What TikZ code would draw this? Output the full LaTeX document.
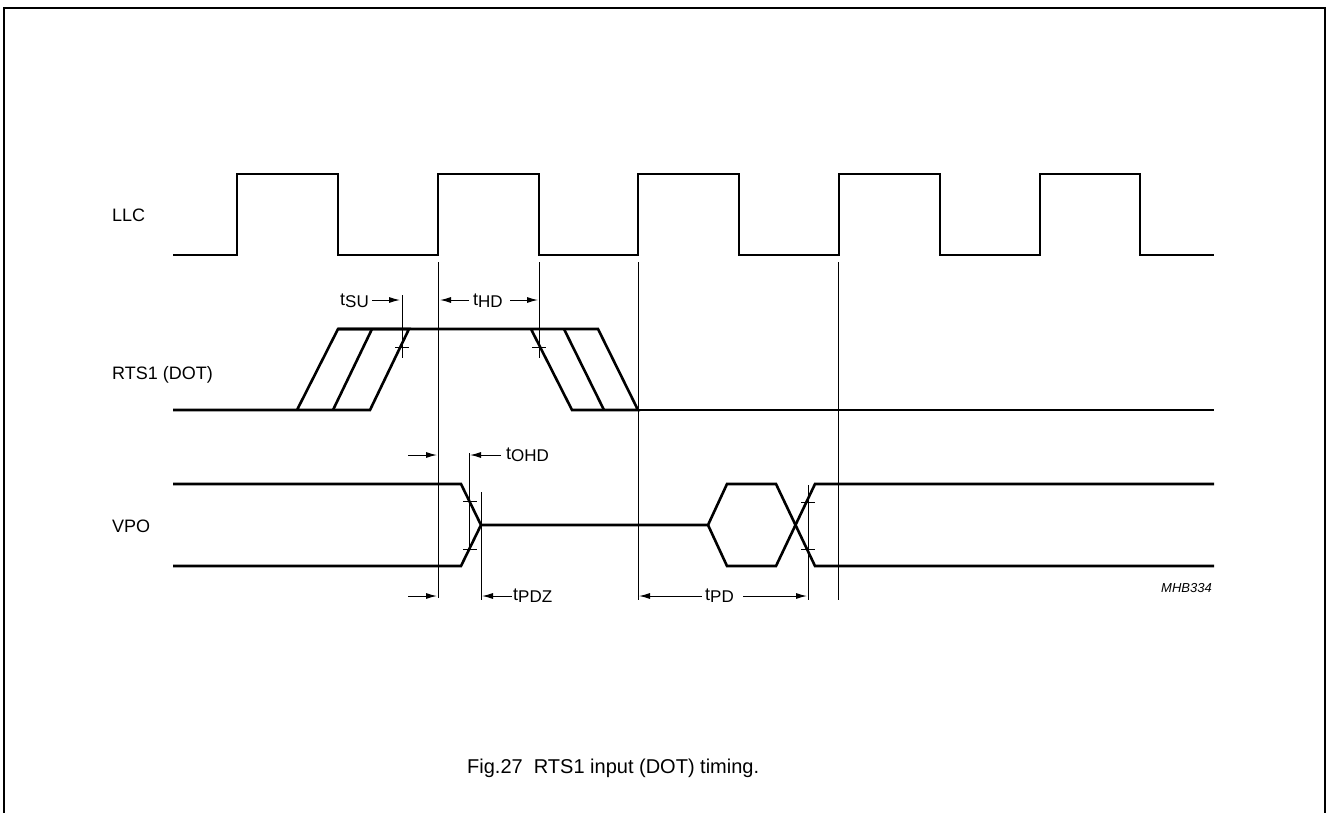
\documentclass[tikz,border=0pt]{standalone}
\usepackage{fontspec}
\setmainfont{Liberation Sans}
\usetikzlibrary{arrows.meta}
\newcommand{\tsig}[1]{t\raisebox{-0.3ex}{\fontsize{17}{17}\selectfont #1}}
\begin{document}
\begin{tikzpicture}[x=1pt,y=-1pt,
  sig/.style={line width=2.6pt,line join=miter},
  thin/.style={line width=1pt},
  dim/.style={line width=1pt,-{Latex[length=11pt,width=6pt]}},
  lbl/.style={anchor=base west,inner sep=0pt,font=\fontsize{18}{20}\selectfont},
  tlbl/.style={anchor=base west,inner sep=0pt,font=\fontsize{18}{20}\selectfont}]
\useasboundingbox (0,0) rectangle (1326,812);
% frame
\draw[line width=2pt] (4,814) -- (4,8) -- (1325,8) -- (1325,814);
% signal names
\node[lbl] (llc) at (112,221) {LLC};
\node[lbl] (rts) at (112,379) {RTS1 (DOT)};
\node[lbl] (vpo) at (112,532) {VPO};
% LLC clock
\draw[sig] (173,255) -- (237,255) -- (237,174) -- (338,174) -- (338,255)
  -- (438,255) -- (438,174) -- (539,174) -- (539,255)
  -- (638,255) -- (638,174) -- (739,174) -- (739,255)
  -- (839,255) -- (839,174) -- (940,174) -- (940,255)
  -- (1040,255) -- (1040,174) -- (1140,174) -- (1140,255) -- (1214,255);
% RTS1
\draw[sig] (173,410) -- (370,410) -- (409,329) -- (338,329) -- (297,410);
\draw[sig] (333,410) -- (372,329);
\draw[sig] (338,329) -- (598,329) -- (638,410) -- (572,410) -- (531,329);
\draw[sig] (564,329) -- (604,410);
\draw[sig] (638,410) -- (1214,410);
% VPO
\draw[sig] (173,484) -- (461,484) -- (481,525) -- (461,566) -- (173,566);
\draw[sig] (481,525) -- (708,525) -- (727,484) -- (776,484) -- (815,566) -- (1214,566);
\draw[sig] (708,525) -- (727,566) -- (776,566) -- (815,484) -- (1214,484);
% reference lines
\draw[thin] (438,262) -- (438,598);
\draw[thin] (539,262) -- (539,358);
\draw[thin] (638,262) -- (638,600);
\draw[thin] (838,262) -- (838,600);
% setup / hold marks
\draw[thin] (402,295) -- (402,358);
\draw[thin] (395,347) -- (409,347);
\draw[thin] (532,347) -- (546,347);
% VPO marks
\draw[thin] (469,453) -- (469,550);
\draw[thin] (463,501) -- (477,501);
\draw[thin] (463,549) -- (477,549);
\draw[thin] (481,492) -- (481,600);
\draw[thin] (808,485) -- (808,600);
\draw[thin] (801,502) -- (815,502);
\draw[thin] (801,549) -- (815,549);
% dimension arrows
\node[tlbl] (tsu) at (340,305) {\tsig{SU}};
\draw[dim] (372,300) -- (400,300);
\draw[dim] (469,300) -- (440,300);
\node[tlbl] (thd) at (473,305) {\tsig{HD}};
\draw[dim] (510,300) -- (538,300);
\draw[dim] (408,455) -- (437,455);
\draw[dim] (501,455) -- (470,455);
\node[tlbl] (tohd) at (506,459) {\tsig{OHD}};
\draw[dim] (408,596) -- (437,596);
\draw[dim] (512,596) -- (482,596);
\node[tlbl] (tpdz) at (513,600) {\tsig{PDZ}};
\draw[dim] (702,596) -- (639,596);
\node[tlbl] (tpd) at (705,600) {\tsig{PD}};
\draw[dim] (743,596) -- (807,596);
% ident
\node[anchor=base east,inner sep=0pt,font=\fontsize{13}{15}\selectfont\itshape] (id) at (1212,592) {MHB334};
% caption
\node[anchor=base west,inner sep=0pt,font=\fontsize{20}{22}\selectfont] (cap) at (467,773) {Fig.27\ \ RTS1 input (DOT) timing.};
\end{tikzpicture}
\end{document}
